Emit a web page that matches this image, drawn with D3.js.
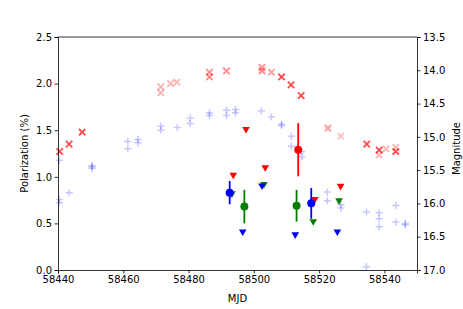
<!DOCTYPE html>
<html lang="en">
<head>
    <meta charset="utf-8">
    <title>Polarization and magnitude</title>
    <style>
        body { margin: 0; background: #fff; }
        svg text { font-family: "DejaVu Sans", sans-serif; }
    </style>
</head>
<body>
    <script src="https://cdnjs.cloudflare.com/ajax/libs/d3/7.9.0/d3.min.js"></script>
    <script>

    // R band magnitudes (red crosses)
    const rMagMjd = [58440.5, 58443.4, 58447.4, 58471.5, 58471.5, 58474.5, 58476.4, 58486.4, 58486.4, 58491.6,
                     58502.5, 58502.5, 58505.4, 58508.5, 58511.4, 58514.5, 58522.7, 58526.7, 58534.6, 58538.4,
                     58538.4, 58540.5, 58543.5, 58543.5];
    const rMag = [15.22, 15.11, 14.93, 14.25, 14.34, 14.20, 14.18, 14.03, 14.10, 14.01,
                  13.96, 14.01, 14.03, 14.10, 14.22, 14.38, 14.87, 14.99, 15.11, 15.20,
                  15.27, 15.18, 15.16, 15.22];
    const rMagAlpha = [0.7, 0.7, 0.7, 0.3, 0.3, 0.3, 0.3, 0.45, 0.45, 0.45,
                       0.45, 0.45, 0.4, 0.7, 0.7, 0.7, 0.4, 0.25, 0.7, 0.7,
                       0.3, 0.3, 0.3, 0.7];

    // V band magnitudes (blue plus signs)
    const vMagMjd = [58440.4, 58440.4, 58440.4, 58443.4, 58450.4, 58450.4, 58450.4, 58461.4, 58461.4, 58464.5,
                     58464.5, 58471.5, 58471.5, 58476.5, 58480.5, 58480.5, 58486.4, 58486.4, 58491.6, 58491.6,
                     58494.4, 58494.4, 58502.3, 58505.4, 58508.5, 58508.5, 58511.5, 58511.5, 58514.7, 58514.7,
                     58522.5, 58522.5, 58526.7, 58526.7, 58534.5, 58534.5, 58538.4, 58538.4, 58538.4, 58543.5,
                     58543.5, 58546.4, 58546.4];
    const vMag = [15.35, 15.94, 15.99, 15.84, 15.43, 15.47, 15.45, 15.07, 15.18, 15.04,
                  15.09, 14.84, 14.90, 14.86, 14.72, 14.80, 14.64, 14.68, 14.60, 14.68,
                  14.59, 14.64, 14.61, 14.70, 14.81, 14.83, 14.99, 15.14, 15.22, 15.30,
                  15.83, 15.96, 16.02, 16.07, 16.13, 16.95, 16.14, 16.23, 16.35, 16.03,
                  16.28, 16.30, 16.32];

    // polarization detections, with errors
    const polRMjd = [58513.6], polR = [1.29], polRErr = [0.285];
    const polGMjd = [58497.1, 58513.1], polG = [0.68, 0.69], polGErr = [0.18, 0.17];
    const polBMjd = [58492.6, 58517.6], polB = [0.83, 0.715], polBErr = [0.125, 0.165];

    // polarization upper limits
    const limRMjd = [58493.7, 58497.6, 58503.5, 58518.7, 58526.6], limR = [1.01, 1.50, 1.09, 0.75, 0.89];
    const limGMjd = [58493.3, 58503.1, 58518.2, 58526.1], limG = [0.81, 0.91, 0.51, 0.735];
    const limBMjd = [58496.6, 58502.5, 58512.7, 58525.6], limB = [0.40, 0.895, 0.37, 0.40];

    const xTicks = [58440, 58460, 58480, 58500, 58520, 58540];
    const polTicks = [0.0, 0.5, 1.0, 1.5, 2.0, 2.5];
    const magTicks = [13.5, 14.0, 14.5, 15.0, 15.5, 16.0, 16.5, 17.0];

    const width = 463, height = 309;
    const margin = {top: 37, right: 46, bottom: 39, left: 58};

    const svg = d3.select("body").append("svg")
        .attr("width", width)
        .attr("height", height);

    const x = d3.scaleLinear().domain([58440, 58550]).range([margin.left, width - margin.right]);
    const yPol = d3.scaleLinear().domain([0, 2.5]).range([height - margin.bottom, margin.top]);
    const yMag = d3.scaleLinear().domain([13.5, 17.0]).range([margin.top, height - margin.bottom]);

    const plot = svg.append("g");

    // magnitudes
    const rPts = rMagMjd.map((d, i) => ({x: d, y: rMag[i], a: rMagAlpha[i]}));
    const vPts = vMagMjd.map((d, i) => ({x: d, y: vMag[i]}));
    const s = 3.6;

    plot.selectAll(".vmag").data(vPts).enter().append("path")
        .attr("class", "vmag")
        .attr("d", d => `M${x(d.x) - s},${yMag(d.y)}h${2 * s}M${x(d.x)},${yMag(d.y) - s}v${2 * s}`)
        .attr("stroke", "#0000ff")
        .attr("stroke-opacity", 0.22)
        .attr("stroke-width", 1.5)
        .attr("fill", "none");

    plot.selectAll(".rmag").data(rPts).enter().append("path")
        .attr("class", "rmag")
        .attr("d", d => {
            const cx = x(d.x), cy = yMag(d.y), k = 3.2;
            return `M${cx - k},${cy - k}L${cx + k},${cy + k}M${cx - k},${cy + k}L${cx + k},${cy - k}`;
        })
        .attr("stroke", "#ff0000")
        .attr("stroke-opacity", d => d.a)
        .attr("stroke-width", 1.8)
        .attr("fill", "none");

    // polarization
    const bands = [
        {color: "#ff0000", mjd: polRMjd, p: polR, err: polRErr, limMjd: limRMjd, lim: limR},
        {color: "#008000", mjd: polGMjd, p: polG, err: polGErr, limMjd: limGMjd, lim: limG},
        {color: "#0000ff", mjd: polBMjd, p: polB, err: polBErr, limMjd: limBMjd, lim: limB}
    ];

    bands.forEach(b => {
        const det = b.mjd.map((d, i) => ({x: d, y: b.p[i], e: b.err[i]}));
        const lims = b.limMjd.map((d, i) => ({x: d, y: b.lim[i]}));

        plot.selectAll(null).data(det).enter().append("line")
            .attr("x1", d => x(d.x)).attr("x2", d => x(d.x))
            .attr("y1", d => yPol(d.y - d.e)).attr("y2", d => yPol(d.y + d.e))
            .attr("stroke", b.color)
            .attr("stroke-width", 1.8);

        plot.selectAll(null).data(det).enter().append("circle")
            .attr("cx", d => x(d.x))
            .attr("cy", d => yPol(d.y))
            .attr("r", 4)
            .attr("fill", b.color);

        plot.selectAll(null).data(lims).enter().append("path")
            .attr("d", d => {
                const cx = x(d.x), cy = yPol(d.y);
                return `M${cx - 3.8},${cy - 3.2}L${cx + 3.8},${cy - 3.2}L${cx},${cy + 3.4}Z`;
            })
            .attr("fill", b.color);
    });

    // axes
    const fmt = d3.format(".1f");

    const xAxis = svg.append("g")
        .attr("transform", `translate(0,${height - margin.bottom})`)
        .call(d3.axisBottom(x).tickValues(xTicks).tickFormat(d3.format("d")).tickSizeOuter(0).tickSize(3.5).tickPadding(2.5));

    const leftAxis = svg.append("g")
        .attr("transform", `translate(${margin.left},0)`)
        .call(d3.axisLeft(yPol).tickValues(polTicks).tickFormat(fmt).tickSizeOuter(0).tickSize(3.5).tickPadding(2.5));

    const rightAxis = svg.append("g")
        .attr("transform", `translate(${width - margin.right},0)`)
        .call(d3.axisRight(yMag).tickValues(magTicks).tickFormat(fmt).tickSizeOuter(0).tickSize(3.5).tickPadding(2.5));

    [xAxis, leftAxis, rightAxis].forEach(a => {
        a.selectAll("text").attr("font-size", 10).attr("fill", "#000").attr("font-family", "DejaVu Sans");
        a.selectAll("line").attr("stroke", "#000").attr("stroke-width", 0.8);
        a.select(".domain").attr("stroke", "#000").attr("stroke-width", 0.8);
    });

    // top spine
    svg.append("line")
        .attr("x1", margin.left).attr("x2", width - margin.right)
        .attr("y1", margin.top).attr("y2", margin.top)
        .attr("stroke", "#000").attr("stroke-width", 0.8);

    // labels
    svg.append("text")
        .attr("x", (margin.left + width - margin.right) / 2)
        .attr("y", 302)
        .attr("text-anchor", "middle")
        .attr("font-size", 10)
        .text("MJD");

    svg.append("text")
        .attr("transform", `translate(27.5,${(margin.top + height - margin.bottom) / 2}) rotate(-90)`)
        .attr("text-anchor", "middle")
        .attr("font-size", 10)
        .text("Polarization (%)");

    svg.append("text")
        .attr("transform", `translate(459.5,148.5) rotate(-90)`)
        .attr("text-anchor", "middle")
        .attr("font-size", 10)
        .text("Magnitude");

    </script>
</body>
</html>
